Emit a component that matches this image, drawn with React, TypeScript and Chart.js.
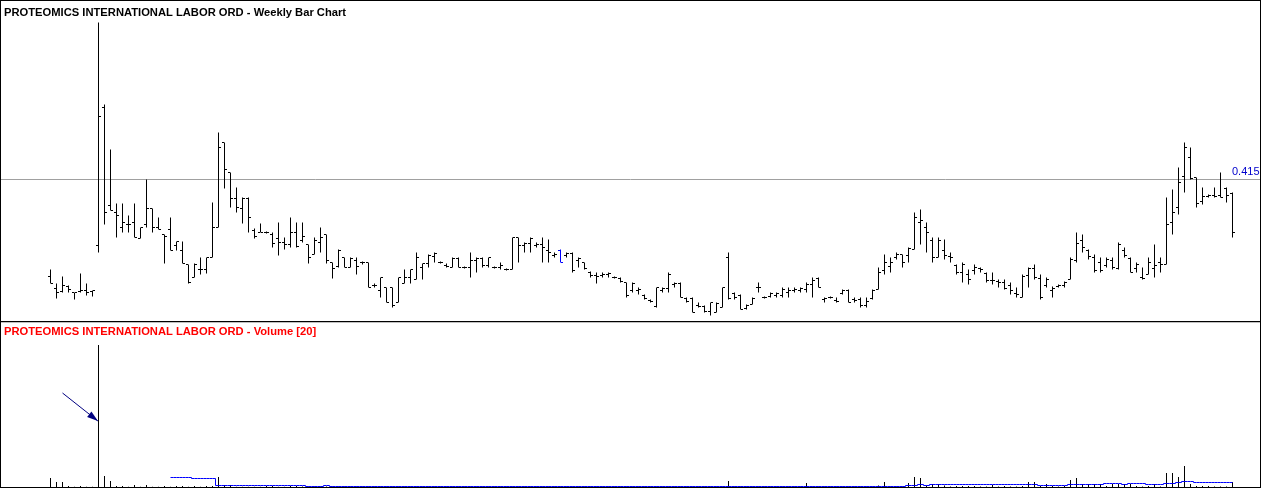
import React, { useEffect, useRef } from "react";
import { Chart, registerables } from "chart.js";

Chart.register(...registerables);

// ---------------- data ----------------
const symbolName = "PROTEOMICS INTERNATIONAL LABOR ORD";
const priceTitle = symbolName + " - Weekly Bar Chart";
const volumeTitle = symbolName + " - Volume [20]";
const referencePrice = 0.415;
const highlightedBar = 85;

const opens = [
  0.318, 0.306, 0.303, 0.308, 0.302, 0.303, 0.304, 0.303, 0.349, 0.487,
  0.389, 0.382, 0.367, 0.370, 0.372, 0.356, 0.370, 0.386, 0.367, 0.360,
  0.365, 0.349, 0.344, 0.330, 0.317, 0.325, 0.325, 0.337, 0.367, 0.452,
  0.422, 0.396, 0.386, 0.396, 0.364, 0.362, 0.362, 0.360, 0.356, 0.352,
  0.350, 0.362, 0.354, 0.350, 0.340, 0.352, 0.360, 0.332, 0.328, 0.337,
  0.327, 0.334, 0.332, 0.332, 0.309, 0.304, 0.307, 0.307, 0.292, 0.311,
  0.317, 0.315, 0.327, 0.331, 0.338, 0.332, 0.329, 0.327, 0.336, 0.327,
  0.327, 0.334, 0.336, 0.329, 0.327, 0.327, 0.325, 0.325, 0.357, 0.349,
  0.351, 0.349, 0.350, 0.344, 0.339, 0.344, 0.339, 0.341, 0.334, 0.332,
  0.322, 0.319, 0.319, 0.320, 0.317, 0.316, 0.312, 0.304, 0.304, 0.299,
  0.294, 0.288, 0.304, 0.306, 0.310, 0.311, 0.296, 0.296, 0.289, 0.288,
  0.283, 0.282, 0.287, 0.337, 0.301, 0.299, 0.286, 0.290, 0.307, 0.297,
  0.298, 0.299, 0.299, 0.302, 0.304, 0.304, 0.305, 0.310, 0.316, 0.295,
  0.297, 0.294, 0.301, 0.304, 0.295, 0.295, 0.289, 0.296, 0.305, 0.324,
  0.328, 0.337, 0.340, 0.339, 0.345, 0.372, 0.367, 0.354, 0.337, 0.344,
  0.338, 0.329, 0.322, 0.320, 0.324, 0.326, 0.321, 0.314, 0.313, 0.312,
  0.309, 0.301, 0.297, 0.319, 0.326, 0.316, 0.309, 0.304, 0.308, 0.309,
  0.315, 0.334, 0.354, 0.344, 0.337, 0.332, 0.329, 0.334, 0.326, 0.344,
  0.336, 0.326, 0.317, 0.320, 0.326, 0.332, 0.330, 0.372, 0.387, 0.418,
  0.437, 0.417, 0.393, 0.398, 0.399, 0.399, 0.406, 0.401,
];

const highs = [
  0.325, 0.311, 0.318, 0.309, 0.302, 0.321, 0.311, 0.304, 0.572, 0.490,
  0.445, 0.391, 0.391, 0.379, 0.391, 0.367, 0.415, 0.386, 0.377, 0.360,
  0.377, 0.353, 0.353, 0.330, 0.331, 0.337, 0.337, 0.392, 0.462, 0.452,
  0.422, 0.407, 0.397, 0.397, 0.366, 0.371, 0.363, 0.362, 0.372, 0.357,
  0.377, 0.372, 0.372, 0.350, 0.357, 0.367, 0.360, 0.332, 0.345, 0.337,
  0.337, 0.337, 0.333, 0.332, 0.311, 0.317, 0.307, 0.307, 0.317, 0.325,
  0.325, 0.342, 0.331, 0.340, 0.342, 0.333, 0.331, 0.337, 0.337, 0.328,
  0.342, 0.337, 0.337, 0.337, 0.328, 0.332, 0.326, 0.357, 0.357, 0.352,
  0.357, 0.352, 0.357, 0.355, 0.342, 0.345, 0.342, 0.342, 0.337, 0.332,
  0.323, 0.322, 0.322, 0.322, 0.318, 0.317, 0.312, 0.312, 0.307, 0.300,
  0.295, 0.307, 0.307, 0.322, 0.312, 0.312, 0.297, 0.297, 0.292, 0.289,
  0.292, 0.292, 0.307, 0.342, 0.302, 0.300, 0.290, 0.297, 0.312, 0.298,
  0.302, 0.302, 0.307, 0.307, 0.307, 0.307, 0.312, 0.317, 0.317, 0.297,
  0.298, 0.297, 0.305, 0.305, 0.297, 0.297, 0.297, 0.305, 0.327, 0.340,
  0.337, 0.342, 0.340, 0.347, 0.382, 0.385, 0.372, 0.357, 0.357, 0.355,
  0.342, 0.330, 0.332, 0.325, 0.330, 0.327, 0.322, 0.322, 0.315, 0.315,
  0.312, 0.307, 0.320, 0.327, 0.330, 0.320, 0.317, 0.308, 0.310, 0.313,
  0.337, 0.362, 0.360, 0.345, 0.340, 0.337, 0.337, 0.337, 0.352, 0.347,
  0.337, 0.332, 0.327, 0.337, 0.350, 0.337, 0.397, 0.405, 0.427, 0.452,
  0.447, 0.417, 0.407, 0.400, 0.407, 0.422, 0.407, 0.402,
];

const lows = [
  0.311, 0.296, 0.302, 0.302, 0.295, 0.302, 0.299, 0.298, 0.342, 0.370,
  0.384, 0.357, 0.362, 0.362, 0.357, 0.356, 0.367, 0.362, 0.365, 0.331,
  0.344, 0.344, 0.331, 0.311, 0.317, 0.320, 0.321, 0.337, 0.367, 0.406,
  0.387, 0.382, 0.371, 0.362, 0.356, 0.362, 0.361, 0.347, 0.339, 0.345,
  0.347, 0.347, 0.352, 0.331, 0.340, 0.342, 0.331, 0.316, 0.327, 0.327,
  0.327, 0.320, 0.330, 0.307, 0.307, 0.297, 0.292, 0.287, 0.292, 0.311,
  0.311, 0.315, 0.315, 0.327, 0.332, 0.331, 0.327, 0.327, 0.327, 0.326,
  0.317, 0.322, 0.327, 0.327, 0.326, 0.325, 0.324, 0.325, 0.332, 0.342,
  0.342, 0.347, 0.332, 0.332, 0.337, 0.332, 0.337, 0.322, 0.327, 0.325,
  0.317, 0.311, 0.317, 0.317, 0.316, 0.312, 0.297, 0.302, 0.300, 0.295,
  0.292, 0.287, 0.302, 0.302, 0.307, 0.297, 0.292, 0.282, 0.287, 0.282,
  0.279, 0.282, 0.287, 0.295, 0.295, 0.285, 0.285, 0.290, 0.302, 0.296,
  0.297, 0.297, 0.297, 0.297, 0.302, 0.302, 0.302, 0.297, 0.307, 0.292,
  0.296, 0.292, 0.300, 0.292, 0.292, 0.287, 0.287, 0.295, 0.305, 0.320,
  0.322, 0.335, 0.327, 0.332, 0.345, 0.350, 0.342, 0.332, 0.337, 0.335,
  0.332, 0.320, 0.312, 0.310, 0.320, 0.322, 0.312, 0.310, 0.307, 0.305,
  0.300, 0.297, 0.297, 0.307, 0.315, 0.295, 0.307, 0.297, 0.307, 0.307,
  0.315, 0.332, 0.342, 0.335, 0.322, 0.322, 0.327, 0.325, 0.325, 0.337,
  0.322, 0.322, 0.315, 0.320, 0.317, 0.322, 0.330, 0.360, 0.380, 0.402,
  0.415, 0.387, 0.390, 0.397, 0.397, 0.397, 0.392, 0.357,
];

const closes = [
  0.311, 0.302, 0.309, 0.305, 0.302, 0.304, 0.302, 0.304, 0.478, 0.382,
  0.384, 0.379, 0.372, 0.370, 0.357, 0.367, 0.386, 0.367, 0.365, 0.358,
  0.344, 0.353, 0.331, 0.312, 0.330, 0.325, 0.337, 0.367, 0.447, 0.425,
  0.396, 0.387, 0.396, 0.377, 0.358, 0.362, 0.362, 0.351, 0.352, 0.350,
  0.362, 0.348, 0.358, 0.337, 0.354, 0.357, 0.334, 0.326, 0.344, 0.327,
  0.336, 0.328, 0.332, 0.307, 0.309, 0.317, 0.292, 0.289, 0.317, 0.317,
  0.325, 0.337, 0.331, 0.339, 0.341, 0.332, 0.328, 0.336, 0.327, 0.327,
  0.334, 0.336, 0.329, 0.337, 0.327, 0.329, 0.325, 0.357, 0.349, 0.351,
  0.356, 0.350, 0.347, 0.342, 0.340, 0.332, 0.341, 0.324, 0.336, 0.326,
  0.319, 0.318, 0.320, 0.321, 0.317, 0.313, 0.299, 0.311, 0.305, 0.296,
  0.293, 0.307, 0.306, 0.320, 0.311, 0.297, 0.293, 0.282, 0.288, 0.283,
  0.292, 0.291, 0.307, 0.296, 0.297, 0.285, 0.289, 0.296, 0.307, 0.297,
  0.301, 0.301, 0.305, 0.304, 0.305, 0.306, 0.310, 0.314, 0.307, 0.296,
  0.297, 0.293, 0.304, 0.292, 0.294, 0.289, 0.293, 0.304, 0.322, 0.332,
  0.332, 0.340, 0.332, 0.346, 0.377, 0.374, 0.362, 0.337, 0.354, 0.339,
  0.337, 0.322, 0.330, 0.315, 0.327, 0.325, 0.314, 0.314, 0.312, 0.306,
  0.304, 0.300, 0.318, 0.326, 0.317, 0.297, 0.315, 0.306, 0.309, 0.312,
  0.335, 0.351, 0.347, 0.338, 0.324, 0.324, 0.335, 0.327, 0.350, 0.339,
  0.322, 0.330, 0.316, 0.332, 0.329, 0.330, 0.370, 0.382, 0.412, 0.447,
  0.416, 0.391, 0.398, 0.399, 0.398, 0.397, 0.399, 0.362,
];

// weekly volume, thousands of shares
const volumes = [
  180, 100, 100, 20, 5, 20, 5, 5, 2840, 220,
  120, 20, 20, 5, 40, 5, 40, 5, 5, 20,
  5, 20, 20, 5, 20, 5, 20, 20, 200, 40,
  40, 5, 5, 5, 5, 5, 20, 20, 5, 5,
  20, 20, 10, 10, 10, 10, 10, 10, 10, 10,
  10, 10, 10, 10, 10, 10, 10, 10, 10, 10,
  10, 10, 10, 10, 10, 10, 10, 10, 10, 10,
  10, 10, 10, 10, 10, 10, 10, 10, 10, 10,
  10, 10, 10, 10, 10, 10, 10, 10, 10, 10,
  10, 10, 10, 10, 10, 10, 10, 10, 10, 10,
  10, 10, 10, 10, 10, 10, 10, 10, 10, 10,
  10, 10, 10, 120, 10, 10, 10, 10, 10, 10,
  10, 10, 10, 10, 10, 10, 80, 10, 10, 10,
  10, 10, 10, 10, 10, 10, 10, 10, 30, 100,
  10, 10, 10, 80, 200, 180, 30, 60, 60, 30,
  10, 20, 20, 20, 20, 10, 10, 40, 10, 20,
  10, 10, 20, 100, 100, 20, 60, 20, 10, 20,
  140, 180, 60, 60, 60, 60, 20, 60, 60, 60,
  60, 20, 10, 20, 60, 10, 280, 280, 200, 420,
  60, 20, 20, 20, 10, 10, 10, 100,
];

// 20-week volume average, thousands of shares
const volumeAverage = [
  null, null, null, null, null, null, null, null, null, null,
  null, null, null, null, null, null, null, null, null, null,
  190, 190, 190, 190, 170, 170, 170, 170, 30, 30,
  30, 30, 30, 30, 30, 30, 30, 30, 30, 30,
  30, 30, 30, 10, 10, 10, 30, 10, 10, 10,
  10, 10, 10, 10, 10, 10, 10, 10, 10, 10,
  10, 10, 10, 10, 10, 10, 10, 10, 10, 10,
  10, 10, 10, 10, 10, 10, 10, 10, 10, 10,
  10, 10, 10, 10, 10, 10, 10, 10, 10, 10,
  10, 10, 10, 10, 10, 10, 10, 10, 10, 10,
  10, 10, 10, 10, 10, 10, 10, 10, 10, 10,
  10, 10, 10, 10, 10, 10, 10, 10, 10, 10,
  10, 10, 10, 10, 10, 10, 10, 10, 10, 10,
  10, 10, 10, 10, 10, 10, 10, 10, 10, 10,
  10, 10, 10, 30, 30, 50, 30, 50, 50, 50,
  50, 50, 50, 50, 50, 50, 50, 50, 50, 50,
  50, 50, 50, 50, 50, 30, 30, 30, 30, 30,
  50, 50, 50, 50, 50, 50, 70, 70, 70, 50,
  70, 70, 70, 50, 50, 50, 70, 70, 90, 110,
  110, 90, 90, 90, 90, 90, 90, 90,
];

// annotation arrow pointing at the volume spike (bar index, volume)
const arrowTail = { x: 2, y: 1880 };
const arrowTip = { x: 7.9, y: 1320 };

// ---------------- layout / style ----------------
const WIDTH = 1262;
const PRICE_H = 322;
const VOL_H = 167;
const X_MIN = -8.25;
const X_MAX = 201.75;
const PRICE_MIN = 0.2735;
const PRICE_MAX = 0.5935;
const VOL_MAX = 3280;
const TITLE_FONT = "bold 11.2px 'Liberation Sans', Arial, sans-serif";
const LABEL_FONT = "11px 'Liberation Sans', Arial, sans-serif";

const barColors = opens.map((_, i) => (i === highlightedBar ? "#0000ff" : "#000000"));

const baseOptions = (padBottom: number, yMin: number, yMax: number) => ({
  responsive: false,
  maintainAspectRatio: false,
  animation: false as const,
  devicePixelRatio: 1,
  events: [] as any[],
  layout: { autoPadding: false, padding: { left: 1, right: 1, top: 1, bottom: padBottom } },
  plugins: {
    legend: { display: false },
    tooltip: { enabled: false },
    title: { display: false },
  },
  scales: {
    x: {
      type: "linear" as const,
      min: X_MIN,
      max: X_MAX,
      offset: false,
      display: false,
      grid: { display: false },
    },
    y: {
      type: "linear" as const,
      min: yMin,
      max: yMax,
      beginAtZero: false,
      display: false,
      grid: { display: false },
    },
  },
});

const priceDecor = {
  id: "priceDecor",
  beforeDatasetsDraw(chart: any) {
    const { ctx, scales } = chart;
    const py = scales.y.getPixelForValue(referencePrice);
    ctx.save();
    ctx.strokeStyle = "#a0a0a0";
    ctx.lineWidth = 1;
    ctx.beginPath();
    ctx.moveTo(1, py);
    ctx.lineTo(1260, py);
    ctx.stroke();
    ctx.restore();
  },
  afterDraw(chart: any) {
    const { ctx, scales } = chart;
    const py = scales.y.getPixelForValue(referencePrice);
    ctx.save();
    ctx.strokeStyle = "#000000";
    ctx.lineWidth = 1;
    ctx.strokeRect(0.5, 0.5, 1260, PRICE_H - 1);
    ctx.font = TITLE_FONT;
    ctx.fillStyle = "#000000";
    ctx.textAlign = "left";
    ctx.textBaseline = "alphabetic";
    ctx.fillText(priceTitle, 4, 16);
    ctx.font = LABEL_FONT;
    ctx.fillStyle = "#0000cc";
    ctx.textAlign = "right";
    ctx.fillText(referencePrice.toFixed(3), 1259.5, py - 4.5);
    ctx.restore();
  },
};

const volumeDecor = {
  id: "volumeDecor",
  afterDatasetsDraw(chart: any) {
    const { ctx, scales } = chart;
    const x1 = scales.x.getPixelForValue(arrowTail.x);
    const y1 = scales.y.getPixelForValue(arrowTail.y);
    const x2 = scales.x.getPixelForValue(arrowTip.x);
    const y2 = scales.y.getPixelForValue(arrowTip.y);
    const ang = Math.atan2(y2 - y1, x2 - x1);
    const len = 11;
    const half = 3.5;
    ctx.save();
    ctx.strokeStyle = "#000080";
    ctx.fillStyle = "#000080";
    ctx.lineWidth = 1;
    ctx.beginPath();
    ctx.moveTo(x1, y1);
    ctx.lineTo(x2, y2);
    ctx.stroke();
    const bx = x2 - Math.cos(ang) * len;
    const by = y2 - Math.sin(ang) * len;
    ctx.beginPath();
    ctx.moveTo(x2, y2);
    ctx.lineTo(bx - Math.sin(ang) * half, by + Math.cos(ang) * half);
    ctx.lineTo(bx + Math.sin(ang) * half, by - Math.cos(ang) * half);
    ctx.closePath();
    ctx.fill();
    ctx.restore();
  },
  afterDraw(chart: any) {
    const { ctx } = chart;
    ctx.save();
    ctx.fillStyle = "#c0c0c0";
    ctx.fillRect(0, 0, 1261, 1);
    ctx.fillStyle = "#000000";
    ctx.fillRect(0, 0, 1, VOL_H - 1);
    ctx.fillRect(1260, 0, 1, VOL_H - 1);
    ctx.fillRect(0, VOL_H - 2, 1261, 1);
    ctx.font = TITLE_FONT;
    ctx.fillStyle = "#ff0000";
    ctx.textAlign = "left";
    ctx.textBaseline = "alphabetic";
    ctx.fillText(volumeTitle, 4, 13);
    ctx.restore();
  },
};

export default function App() {
  const priceRef = useRef<HTMLCanvasElement | null>(null);
  const volRef = useRef<HTMLCanvasElement | null>(null);

  useEffect(() => {
    if (!priceRef.current || !volRef.current) return;

    const priceChart = new Chart(priceRef.current, {
      type: "bar",
      data: {
        datasets: [
          {
            type: "scatter",
            data: opens.map((o, i) => ({ x: i - 0.25, y: o })),
            pointStyle: "line",
            pointRadius: 1,
            pointHoverRadius: 1,
            pointBorderWidth: 1,
            pointBorderColor: barColors,
            pointBackgroundColor: barColors,
            showLine: false,
          } as any,
          {
            type: "scatter",
            data: closes.map((c, i) => ({ x: i + 0.25, y: c })),
            pointStyle: "line",
            pointRadius: 1,
            pointHoverRadius: 1,
            pointBorderWidth: 1,
            pointBorderColor: barColors,
            pointBackgroundColor: barColors,
            showLine: false,
          } as any,
          {
            type: "bar",
            data: highs.map((h, i) => ({ x: i, y: [lows[i], h] })),
            backgroundColor: barColors,
            borderWidth: 0,
            barThickness: 1,
            inflateAmount: 0,
          } as any,
        ],
      },
      options: baseOptions(1, PRICE_MIN, PRICE_MAX) as any,
      plugins: [priceDecor],
    });

    const volumeChart = new Chart(volRef.current, {
      type: "bar",
      data: {
        datasets: [
          {
            type: "line",
            data: volumeAverage.map((v, i) => ({ x: i, y: v })),
            borderColor: "#0000ff",
            borderWidth: 1,
            pointRadius: 0,
            pointHoverRadius: 0,
            stepped: "middle",
            spanGaps: false,
            fill: false,
          } as any,
          {
            type: "bar",
            data: volumes.map((v, i) => ({ x: i, y: v })),
            backgroundColor: "#000000",
            borderWidth: 0,
            barThickness: 1,
            inflateAmount: 0,
          } as any,
        ],
      },
      options: baseOptions(2, 0, VOL_MAX) as any,
      plugins: [volumeDecor],
    });

    return () => {
      priceChart.destroy();
      volumeChart.destroy();
    };
  }, []);

  return (
    <div
      style={{
        position: "absolute",
        left: 0,
        top: 0,
        width: WIDTH,
        height: PRICE_H + VOL_H,
        background: "#ffffff",
      }}
    >
      <canvas
        ref={priceRef}
        width={WIDTH}
        height={PRICE_H}
        style={{ position: "absolute", left: 0, top: 0, width: WIDTH, height: PRICE_H, display: "block" }}
      />
      <canvas
        ref={volRef}
        width={WIDTH}
        height={VOL_H}
        style={{ position: "absolute", left: 0, top: PRICE_H, width: WIDTH, height: VOL_H, display: "block" }}
      />
    </div>
  );
}
